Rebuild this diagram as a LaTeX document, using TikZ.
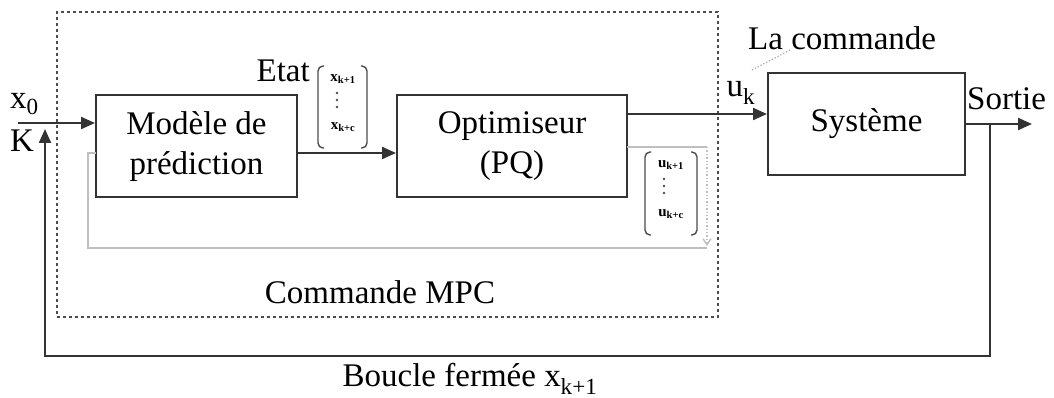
\documentclass[tikz,border=0pt]{standalone}
\usepackage{fontspec}
\setmainfont{Liberation Serif}
\usetikzlibrary{arrows.meta}
\begin{document}
\begin{tikzpicture}[x=1pt,y=-1pt,
  line/.style={draw=black!80,line width=2.2pt},
  blk/.style={draw=black!80,line width=2pt,align=center,inner sep=0pt,
    font=\fontsize{33}{40}\selectfont},
  lbl/.style={inner sep=0pt,align=center,font=\fontsize{33}{40}\selectfont},
  small/.style={inner sep=0pt,font=\bfseries\fontsize{15}{16}\selectfont},
  vdot/.style={fill=black!70,draw=none},
  arr/.style={line,-{Triangle[length=14pt,width=12pt]}},
  loop/.style={draw=black!25,line width=1.4pt},
  brk/.style={draw=black!70,line width=1.4pt,rounded corners=5pt}]
\useasboundingbox (0,0) rectangle (1054,398);

% MPC controller frame
\node[draw=black!70,dashed,line width=1.3pt,minimum width=661pt,minimum height=305pt,inner sep=0pt] (mpc) at (387.5,164.5) {};
\node[lbl] (mpclbl) at (380,292) {Commande MPC};

% blocks
\node[blk,minimum width=201pt,minimum height=102pt] (mod) at (196.5,146.5) {Modèle de\\prédiction};
\node[blk,minimum width=230pt,minimum height=102pt] (opt) at (512,146.5) {Optimiseur\\(PQ)};
\node[blk,minimum width=197pt,minimum height=102pt] (sys) at (866.5,124) {Système};

% input x0 / K
\coordinate (in) at (18,123);
\node[lbl,anchor=west] (x0) at (10,104) {x\textsubscript{0}};
\node[lbl,anchor=west] (kk) at (10,141) {K};
\draw[arr] (in) -- (mod.west |- in);

% state prediction to optimiser
\coordinate (ms) at (297,153);
\draw[arr] (ms) -- (opt.west |- ms);
\node[lbl,anchor=east] (etat) at (310,71) {Etat};
\draw[brk] (324,66) -- (318,66) -- (318,148) -- (324,148);
\draw[brk] (361,66) -- (367,66) -- (367,148) -- (361,148);
\node[small] (xa) at (343,79) {x\textsubscript{k+1}};
\foreach \yy in {93,100,107} \fill[vdot] (337,\yy) circle (1.4pt);
\node[small] (xb) at (343,127) {x\textsubscript{k+c}};

% command to the system
\coordinate (ou) at (627,114);
\draw[arr] (ou) -- (sys.west |- ou);
\node[lbl] (uk) at (741,93) {u\textsubscript{k}};
\node[lbl,anchor=west] (cmd) at (748,38) {La commande};
\draw[black!35,dotted,line width=1.2pt] (752,70) -- (790,50);

% output and closed loop
\coordinate (so) at (965,124);
\coordinate (out) at (1032,124);
\draw[arr] (so) -- (out);
\node[lbl,anchor=west] (sortie) at (967,99) {Sortie};
\coordinate (fb) at (990,124);
\coordinate (fbend) at (45,129);
\draw[arr] (fb) -- (990,356) -- (45,356) -- (fbend);
\node[lbl] (boucle) at (470,379) {Boucle fermée x\textsubscript{k+1}};

% internal prediction loop
\coordinate (la) at (627,147);
\coordinate (lb) at (96,153);
\draw[loop] (la) -- (707,147);
\draw[loop,dotted,-{Straight Barb[length=6pt,width=8pt]}] (707,147) -- (707,246);
\draw[loop] (707,248) -- (88,248) -- (88,153) -- (lb);
\draw[brk] (651,152) -- (645,152) -- (645,235) -- (651,235);
\draw[brk] (691,152) -- (697,152) -- (697,235) -- (691,235);
\node[small] (ua) at (671,165) {u\textsubscript{k+1}};
\foreach \yy in {179,186,193} \fill[vdot] (664,\yy) circle (1.4pt);
\node[small] (ub) at (671,214) {u\textsubscript{k+c}};
\end{tikzpicture}
\end{document}
